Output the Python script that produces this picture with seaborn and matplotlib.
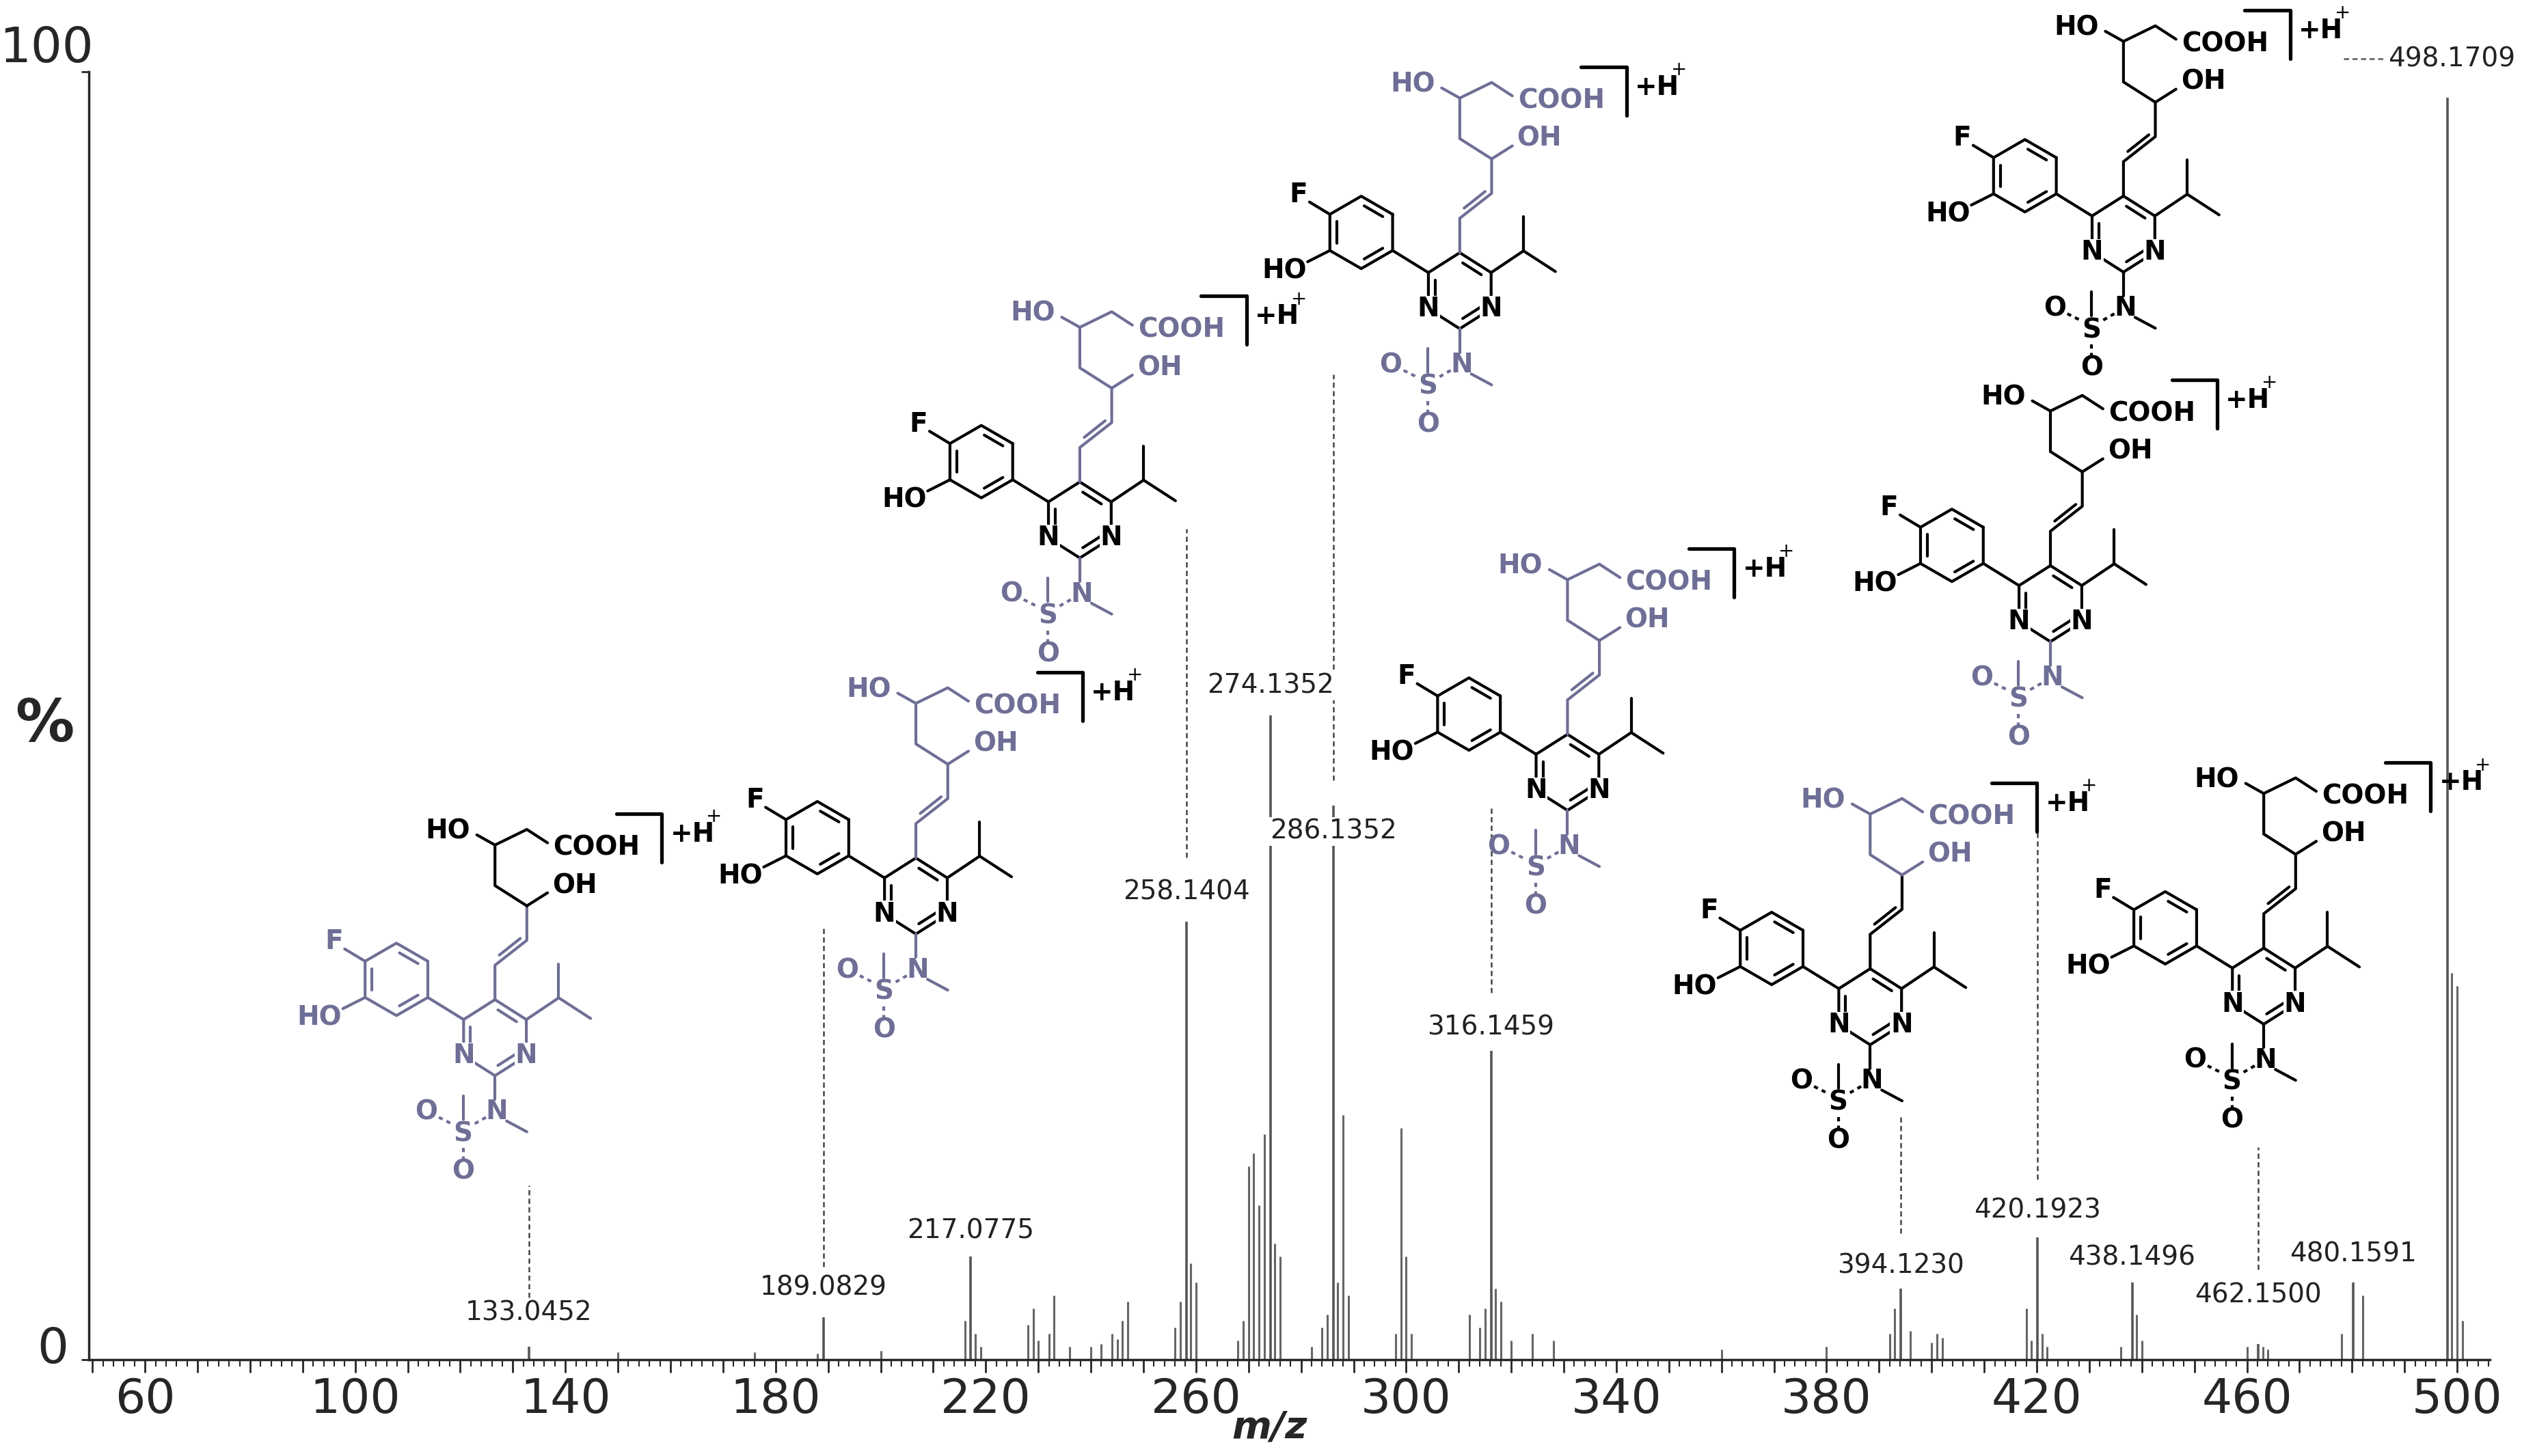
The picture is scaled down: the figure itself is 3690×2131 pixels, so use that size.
import numpy as np
import matplotlib
matplotlib.use("Agg")
import matplotlib.pyplot as plt
import matplotlib.transforms as mtransforms
from matplotlib.ticker import MultipleLocator, FuncFormatter
import seaborn as sns

# labelled peaks
peak_mz = [133.0452, 189.0829, 217.0775, 258.1404, 274.1352, 286.1352, 316.1459,
           394.1230, 420.1923, 438.1496, 462.1500, 480.1591, 498.1709]
peak_int = [1.0, 3.3, 8.0, 34.0, 50.0, 43.0, 24.0, 5.5, 9.5, 6.0, 1.2, 6.0, 98.0]
label_y = [2.6, 4.6, 9.0, 35.3, 51.3, 40.0, 24.8, 6.3, 10.6, 6.9, 4.0, 7.2]

# minor peaks
minor_mz = [150, 176, 188, 200, 216, 218, 219, 228, 229, 230, 232, 233, 236, 240, 242, 244, 245, 246, 247,
            256, 257, 259, 260, 268, 269, 270, 271, 272, 273, 275, 276, 282, 284, 285, 287, 288, 289,
            298, 299, 300, 301, 312, 314, 315, 317, 318, 320, 324, 328, 360, 380, 392, 393, 396, 400,
            401, 402, 418, 419, 421, 422, 436, 439, 440, 460, 463, 464, 478, 482, 499, 500, 501]
minor_int = [0.6, 0.6, 0.5, 0.7, 3.0, 2.0, 1.0, 2.7, 4.0, 1.5, 2.0, 5.0, 1.0, 1.0, 1.2, 2.0, 1.6, 3.0, 4.5,
             2.5, 4.5, 7.5, 6.0, 1.5, 3.0, 15.0, 16.0, 12.0, 17.5, 9.0, 8.0, 1.0, 2.5, 3.5, 6.0, 19.0, 5.0,
             2.0, 18.0, 8.0, 2.0, 3.5, 2.5, 4.0, 5.5, 4.5, 1.5, 2.0, 1.5, 0.8, 1.0, 2.0, 4.0, 2.2, 1.3,
             2.0, 1.7, 4.0, 1.5, 2.0, 1.0, 1.0, 3.5, 1.5, 1.0, 1.0, 0.8, 2.0, 5.0, 30.0, 29.0, 3.0]

# dotted connectors: (mz, y_from, y_to)
conn_mz = [133.0452, 189.0829, 258.1404, 286.1352, 316.1459, 394.1230, 420.1923, 462.1500]
conn_from = [4.8, 7.2, 39.0, 45.0, 28.5, 9.8, 14.0, 7.0]
conn_to = [13.5, 33.5, 64.5, 76.5, 43.0, 19.0, 45.0, 16.5]

# molecule anchors (pyrimidine centre) and colours (upper chain, vinyl, core, sulfonamide)
P, K = "#6e6e96", "black"
mol_x = [126.6, 206.7, 237.9, 310.2, 330.7, 436.5, 422.6, 388.3, 463.2]
mol_y = [25.0, 36.0, 65.2, 83.0, 45.6, 87.4, 58.7, 27.4, 29.0]
mol_col = [(K, P, P, P), (P, P, K, P), (P, P, K, P), (P, P, K, P), (P, P, K, P),
           (K, K, K, K), (K, K, K, P), (P, K, K, K), (K, K, K, K)]

sns.set_style("ticks")
plt.rcParams['font.family'] = ['DejaVu Sans']
fig = plt.figure(figsize=(36.9, 21.31), dpi=100)
ax = fig.add_axes([0.0352, 0.0662, 0.952, 0.8845])
ax.set_xlim(49.3, 506.2)
ax.set_ylim(0, 100)

ax.vlines(minor_mz, 0, minor_int, color="#666666", lw=2.2)
ax.vlines(peak_mz, 0, peak_int, color="#555555", lw=2.6)
for m, y in zip(peak_mz[:-1], label_y):
    ax.text(m, y, f"{m:.4f}", ha="center", va="bottom", fontsize=28, color="#222222",
            bbox=dict(fc="white", ec="none", pad=1), zorder=3)
ax.text(486.8, 101, "498.1709", ha="left", va="center", fontsize=28, color="#222222", clip_on=False)
ax.plot([478.4, 486.3], [101, 101], ls=(0, (3, 2)), color="#555555", lw=1.8, clip_on=False)
ax.vlines(conn_mz, conn_from, conn_to, color="#444444", lw=1.8, linestyles=(0, (3, 2)))

ax.xaxis.set_major_locator(MultipleLocator(10))
ax.xaxis.set_minor_locator(MultipleLocator(2))
ax.xaxis.set_major_formatter(FuncFormatter(lambda v, p: f"{v:.0f}" if v % 40 == 20 else ""))
ax.tick_params(axis="x", which="major", labelsize=50, length=14, width=2, pad=4)
ax.tick_params(axis="x", which="minor", length=7, width=1.5)
ax.set_yticks([0, 100])
ax.set_yticklabels([])
ax.tick_params(axis="y", length=8, width=2)
fig.text(100 / 3690, 1 - 1975 / 2131, "0", fontsize=52, ha="right", va="center")
fig.text(137 / 3690, 1 - 72 / 2131, "100", fontsize=52, ha="right", va="center")
fig.text(65 / 3690, 1 - 1062 / 2131, "%", fontsize=62, fontweight="bold", ha="center", va="center")
fig.text(1857 / 3690, 1 - 2089 / 2131, "m/z", fontsize=40, fontstyle="italic", fontweight="bold",
         ha="center", va="center")
sns.despine(ax=ax)
for s in ["left", "bottom"]:
    ax.spines[s].set_linewidth(2.5)

c30 = np.cos(np.pi / 6)
ring = [(0, 1.05), (c30, 0.5), (c30, -0.5), (0, -1.05), (-c30, -0.5), (-c30, 0.5)]
ph_c = (-2.72, 1.61)
ph = [(ph_c[0] + np.cos(a), ph_c[1] + np.sin(a)) for a in np.radians([30, 90, 150, 210, 270, 330])]


def inner(p, q, c, cen, seg):
    # inner line of a ring double bond
    a, b = np.array(p), np.array(q)
    m = np.array(cen)
    a2 = a + 0.22 * (m - a)
    b2 = b + 0.22 * (m - b)
    a3 = a2 + 0.12 * (b2 - a2)
    b3 = b2 + 0.12 * (a2 - b2)
    seg([tuple(a3), tuple(b3)], c)


def draw_mol(x0, y0, cols):
    up, vin, core, sulf = cols
    ox, oy = ax.transData.transform((x0, y0))
    tr = mtransforms.Affine2D().scale(53).translate(ox, oy)
    kw = dict(transform=tr, lw=3.0, solid_capstyle="round", clip_on=False, zorder=4)
    tk = dict(transform=tr, fontsize=28, fontweight="bold", ha="center", va="center", clip_on=False, zorder=5)

    def seg(pts, c, **extra):
        xs, ys = zip(*pts)
        ax.plot(xs, ys, color=c, **{**kw, **extra})

    # pyrimidine
    seg(ring + [ring[0]], core)
    inner(ring[4], ring[5], core, (0, 0), seg)
    inner(ring[0], ring[1], core, (0, 0), seg)
    inner(ring[2], ring[3], core, (0, 0), seg)
    for v in (2, 4):
        ax.text(ring[v][0], ring[v][1], "N", color=core,
                bbox=dict(fc="white", ec="none", pad=0.3), **tk)
    # phenyl
    seg(ph + [ph[0]], core)
    for i, j in [(0, 1), (2, 3), (4, 5)]:
        inner(ph[i], ph[j], core, ph_c, seg)
    seg([ring[5], ph[5]], core)
    seg([ph[2], (-4.15, 2.45)], core)
    seg([ph[3], (-4.2, 0.8)], core)
    ax.text(-4.45, 2.65, "F", color=core, **tk)
    ax.text(-4.85, 0.55, "HO", color=core, **tk)
    # isopropyl
    seg([ring[1], (1.76, 1.1), (2.64, 0.53)], core)
    seg([(1.76, 1.1), (1.76, 2.04)], core)
    # sulfonamide
    seg([ring[3], (0, -1.7)], sulf)
    ax.text(0.05, -2.05, "N", color=sulf, **tk)
    seg([(0.32, -2.3), (0.88, -2.6)], sulf)
    seg([(-0.25, -2.2), (-0.6, -2.4)], sulf, ls=(0, (1.5, 1.5)))
    ax.text(-0.88, -2.65, "S", color=sulf, **tk)
    seg([(-0.88, -2.25), (-0.88, -1.6)], sulf)
    ax.text(-1.9, -2.05, "O", color=sulf, **tk)
    seg([(-1.55, -2.2), (-1.15, -2.4)], sulf, ls=(0, (1.5, 1.5)))
    ax.text(-0.88, -3.7, "O", color=sulf, **tk)
    seg([(-0.88, -3.05), (-0.88, -3.35)], sulf, ls=(0, (1.5, 1.5)))
    # vinyl
    seg([ring[0], (0, 2.0), (0.88, 2.69), (0.88, 3.64)], vin)
    seg([(0.12, 2.28), (0.7, 2.74)], vin)
    # diol acid chain
    seg([(0.88, 3.64), (1.45, 4.0)], up)
    ax.text(2.2, 4.2, "OH", color=up, **tk)
    seg([(0.88, 3.64), (0, 4.2), (0, 5.32), (0.88, 5.75), (1.45, 5.38)], up)
    seg([(0, 5.32), (-0.5, 5.6)], up)
    ax.text(-1.3, 5.7, "HO", color=up, **tk)
    ax.text(2.8, 5.25, "COOH", color=up, **tk)
    seg([(3.35, 6.18), (4.6, 6.18), (4.6, 4.84)], K, lw=3.8)
    ax.text(5.45, 5.62, "+H", color=K, **tk)
    ax.text(6.05, 6.1, "+", color=K, transform=tr, fontsize=20, ha="center", va="center",
            clip_on=False, zorder=5)


for x0, y0, cols in zip(mol_x, mol_y, mol_col):
    draw_mol(x0, y0, cols)

fig.savefig("out.png", dpi=100)
